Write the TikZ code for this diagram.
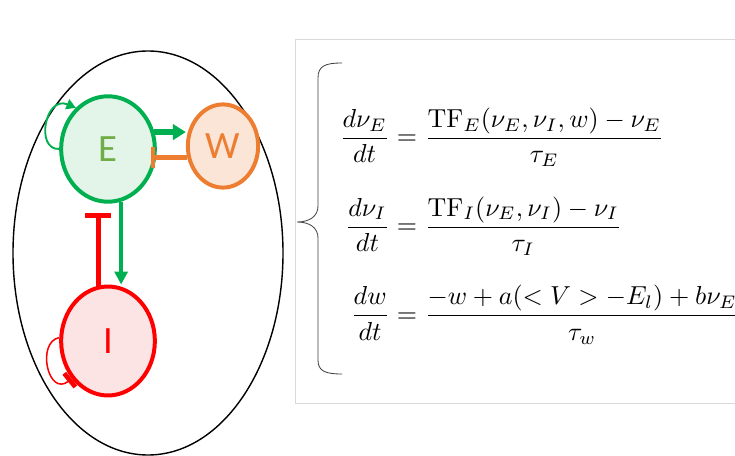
\documentclass[tikz,border=0pt]{standalone}
\usepackage{amsmath}
\usepackage{fontspec}
\newfontfamily\calibri{Carlito}
\usetikzlibrary{arrows.meta,shapes.geometric}
\definecolor{egreen}{HTML}{00B050}
\definecolor{efill}{HTML}{E3F4E9}
\definecolor{etext}{HTML}{70AD47}
\definecolor{worange}{HTML}{ED7D31}
\definecolor{wfill}{HTML}{FBE5D6}
\definecolor{ired}{HTML}{FF0000}
\definecolor{ifill}{HTML}{FDE4E4}
\begin{document}
\begin{tikzpicture}[x=0.03cm,y=0.03cm,
	pop/.style={ellipse,inner sep=0pt,line width=3.4pt,font=\calibri\fontsize{33}{33}\selectfont},
	excite/.style={egreen,line width=#1},
	inhibit/.style={line width=#1}]
	\useasboundingbox (0,0) rectangle (735,-456);
	% network
	\draw[line width=1.2pt] (148,-253) ellipse [x radius=135, y radius=202];
	\node[pop,draw=egreen,fill=efill,text=etext,minimum width=80,minimum height=90] (E) at (108,-149) {E};
	\node[pop,draw=worange,fill=wfill,text=worange,minimum width=60,minimum height=71] (W) at (223,-146) {W};
	\node[pop,draw=ired,fill=ifill,text=ired,minimum width=80,minimum height=93] (I) at (108,-341) {I};
	\draw[excite=4.5pt,-{Triangle[length=11pt,width=13pt]}] (E.20) -- (E.20 -| W.west);
	\draw[inhibit=4pt,worange,-{Bar[width=18pt,line width=3.5pt]},shorten >=-5pt] (W.198) -- (W.198 -| E.east);
	\draw[excite=3pt,-{Triangle[length=11pt,width=11pt]}] (E.-76) -- (E.-76 |- I.north);
	\draw[inhibit=4.2pt,ired,-{Bar[width=22pt,line width=4.5pt]},shorten >=8pt] (I.100) -- (I.100 |- E.south);
	\draw[excite=1.6pt,-{Triangle[length=8pt,width=9pt]}] (E.180) .. controls (35,-150) and (45,-95) .. (E.128);
	\draw[ired,line width=1.3pt,-{Bar[width=15pt,line width=4pt]}] (I.176) .. controls (36,-342) and (48,-398) .. (I.226);
	% equations
	\draw[black!15,line width=0.8pt] (735,-39) -- (295,-39) -- (295,-403) -- (735,-403);
	\draw[black!75,line width=0.7pt] (342,-63) .. controls (325,-63) and (318,-66) .. (318,-78) -- (318,-206)
		.. controls (318,-216) and (310,-222) .. (297,-222) .. controls (310,-222) and (318,-228) .. (318,-238)
		-- (318,-360) .. controls (318,-371) and (325,-374) .. (342,-374);
	\node[anchor=west,scale=2.22,inner sep=0pt] (eqs) at (339,-226) {$\begin{aligned}
		\frac{d\nu_E}{dt} &= \frac{\mathrm{TF}_E(\nu_E,\nu_I,w)-\nu_E}{\tau_E}\\[7.5pt]
		\frac{d\nu_I}{dt} &= \frac{\mathrm{TF}_I(\nu_E,\nu_I)-\nu_I}{\tau_I}\\[7.5pt]
		\frac{dw}{dt} &= \frac{-w+a(< V > -E_l)+b\nu_E}{\tau_w}
	\end{aligned}$};
\end{tikzpicture}
\end{document}
